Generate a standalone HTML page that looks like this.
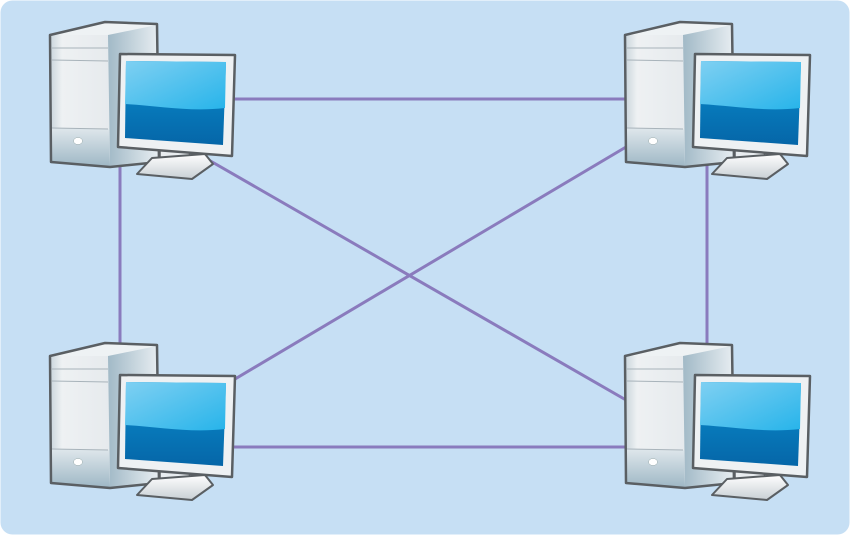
<!DOCTYPE html>
<html><head><style>
html,body{margin:0;padding:0;background:#fff;}
svg{display:block;}
</style></head><body>
<svg width="850" height="535" viewBox="0 0 850 535" xmlns="http://www.w3.org/2000/svg">
<defs>
<linearGradient id="side" x1="0" x2="1" y1="0" y2="0">
<stop offset="0" stop-color="#4f7389"/><stop offset="0.45" stop-color="#95b0bf"/><stop offset="1" stop-color="#e8eef2"/>
</linearGradient>
<linearGradient id="front" x1="0" x2="1" y1="0" y2="0">
<stop offset="0" stop-color="#c9d5dc"/><stop offset="0.2" stop-color="#eef1f3"/><stop offset="1" stop-color="#e6eaed"/>
</linearGradient>
<linearGradient id="frontlow" x1="0" x2="0" y1="0" y2="1">
<stop offset="0" stop-color="#dfe7ec"/><stop offset="1" stop-color="#9fb8c6"/>
</linearGradient>
<linearGradient id="scrTop" x1="0" x2="1" y1="0" y2="1">
<stop offset="0" stop-color="#7fd0f2"/><stop offset="1" stop-color="#27b4ea"/>
</linearGradient>
<linearGradient id="scrBot" x1="0" x2="0" y1="0" y2="1">
<stop offset="0" stop-color="#0a8fcf"/><stop offset="1" stop-color="#0566a8"/>
</linearGradient>
<linearGradient id="stand" x1="0" x2="0" y1="0" y2="1">
<stop offset="0" stop-color="#ffffff"/><stop offset="1" stop-color="#c8cfd4"/>
</linearGradient>
<g id="pc">
<path d="M50,35 L105,22 L157,24 L159,162 L110,167 L51,162 Z" fill="url(#side)"/>
<path d="M50,35 L108,35 L110,167 L51,162 Z" fill="url(#front)"/>
<path d="M51,128 L109,129 L110,166 L51,162 Z" fill="url(#frontlow)"/>
<path d="M50,35 L105,22 L157,24 L152,26 L108,35 Z" fill="#eef2f4"/>
<path d="M50,35 L105,22 L157,24 L159,162 L110,167 L51,162 Z" fill="none" stroke="#5a5f63" stroke-width="2.5" stroke-linejoin="round"/>
<line x1="52" y1="48" x2="108" y2="48" stroke="#a8b3ba" stroke-width="1"/>
<line x1="52" y1="60" x2="108" y2="61" stroke="#a8b3ba" stroke-width="1"/>
<line x1="52" y1="128" x2="108" y2="129" stroke="#a8b3ba" stroke-width="1"/>
<ellipse cx="78" cy="141" rx="4.5" ry="3.5" fill="#fff" stroke="#9aa" stroke-width="0.5"/>
<path d="M160,146 L190,148 L189,161 L160,159 Z" fill="#e9edf0" stroke="#5a5f63" stroke-width="1.5"/>
<path d="M152,158 L205,154 L213,164 L192,179 L137,174 Z" fill="url(#stand)" stroke="#5a5f63" stroke-width="2" stroke-linejoin="round"/>
<path d="M120,54 L235,55 L232,156 L118,147 Z" fill="#eef1f3" stroke="#5a5f63" stroke-width="2.5" stroke-linejoin="round"/>
<path d="M126,61 L226,62 L223,145 L125,138 Z" fill="url(#scrBot)"/>
<path d="M126,61 L226,62 L225,108 C190,112 160,106 125,104 Z" fill="url(#scrTop)"/>
</g>
</defs>
<rect x="0.5" y="0.5" width="849" height="534" rx="12" fill="#c6dff4"/>
<g stroke="#8a7bbd" stroke-width="3" fill="none">
<line x1="230" y1="99" x2="626" y2="99"/>
<line x1="230" y1="447" x2="626" y2="447"/>
<line x1="120" y1="160" x2="120" y2="345"/>
<line x1="707" y1="160" x2="707" y2="345"/>
<line x1="200" y1="155" x2="626" y2="400"/>
<line x1="230" y1="382" x2="626" y2="147"/>
</g>
<use href="#pc"/>
<use href="#pc" transform="translate(575,0)"/>
<use href="#pc" transform="translate(0,321)"/>
<use href="#pc" transform="translate(575,321)"/>
</svg>
</body></html>
